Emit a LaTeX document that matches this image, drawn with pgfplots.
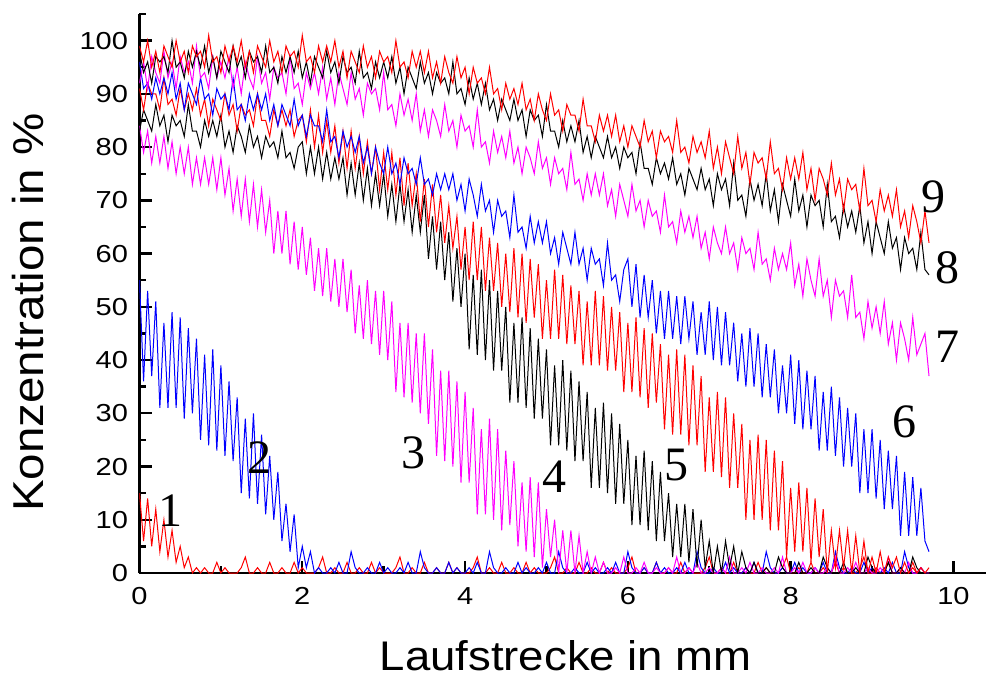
\documentclass[border=0pt]{standalone}
\usepackage{fontspec}
\setmainfont{Liberation Sans}[FakeStretch=1.1]
\newfontfamily\tickfont{Liberation Sans}[FakeStretch=1.18]
\newfontfamily\numfont{Liberation Serif}
\usepackage{pgfplots}
\pgfplotsset{compat=1.18}
\usepackage{pgfplotstable}

\definecolor{cred}{RGB}{255,0,0}
\definecolor{cblue}{RGB}{0,0,255}
\definecolor{cmag}{RGB}{255,0,255}

\pgfplotstableread{
x c1 c2 c3 c4 c5 c6 c7 c8 c9
0 15 55 84 83 91 96 92 98 99
0.05 6 36 79 87 87 91 96 94 96
0.1 14 53 83 85 92 92 91 96 100
0.15 5 37 77 83 90 89 97 92 95
0.2 12 51 82 88 90 93 94 97 98
0.25 4 31 77 84 87 90 92 96 94
0.3 10 47 82 86 93 93 98 97 99
0.35 3 31 76 81 88 90 93 94 97
0.4 8 49 81 86 89 94 96 100 95
0.45 2 31 75 84 86 89 91 95 100
0.5 5 48 80 85 91 92 97 96 96
0.55 1 29 75 82 87 87 94 93 98
0.6 3 46 80 88 90 92 96 98 94
0.65 0 30 73 83 87 90 92 95 99
0.7 1 44 78 83 91 88 99 98 97
0.75 0 25 73 80 86 93 93 95 98
0.8 1 41 78 85 89 89 94 99 95
0.85 0 24 73 82 84 90 91 94 101
0.9 0 42 78 85 89 86 97 97 96
0.95 2 23 72 82 87 91 93 93 97
1 0 39 78 86 85 89 96 98 94
1.05 1 22 71 80 90 90 93 96 99
1.1 0 36 76 83 86 87 97 94 96
1.15 0 21 68 79 88 93 91 99 99
1.2 0 33 74 84 83 87 95 95 96
1.25 1 15 67 82 88 88 90 97 100
1.3 3 29 74 79 86 85 96 93 95
1.35 0 14 66 84 87 90 93 98 98
1.4 0 30 73 80 84 87 91 96 94
1.45 1 13 65 82 90 90 97 97 99
1.5 0 26 72 78 85 87 92 94 97
1.55 0 11 64 82 85 90 94 99 95
1.6 2 22 70 80 82 85 89 94 100
1.65 0 10 60 81 87 88 95 95 96
1.7 0 19 68 78 84 84 93 92 98
1.75 1 6 60 83 87 88 94 97 94
1.8 0 13 68 78 84 86 90 94 99
1.85 0 4 58 79 87 84 97 97 97
1.9 2 11 66 76 82 89 91 94 98
1.95 0 1 57 80 85 84 92 98 95
2 1 5 65 81 86 86 88 93 101
2.05 0 1 56 75 81 82 94 96 96
2.1 0 4 63 80 87 86 91 92 97
2.15 0 0 53 75 80 84 94 97 94
2.2 1 1 61 80 86 84 90 95 99
2.25 3 0 52 74 79 81 95 93 96
2.3 0 0 61 79 85 87 89 98 99
2.35 0 1 51 74 79 81 93 94 96
2.4 1 0 59 78 84 82 88 96 100
2.45 0 2 50 74 77 78 94 92 95
2.5 0 0 59 78 83 83 91 97 98
2.55 2 0 49 71 76 80 88 94 93
2.6 0 4 57 77 83 82 94 95 98
2.65 0 1 45 71 76 79 89 92 96
2.7 1 0 54 77 82 82 91 98 94
2.75 0 0 44 70 75 77 86 93 99
2.8 0 1 55 76 81 80 92 94 95
2.85 2 0 43 69 75 75 90 91 97
2.9 0 0 53 75 80 80 91 96 93
2.95 1 2 41 69 72 77 87 93 98
3 0 0 53 75 79 75 94 96 96
3.05 0 1 40 67 72 80 87 93 97
3.1 0 0 51 73 79 75 88 97 94
3.15 1 0 34 66 71 77 84 92 100
3.2 3 1 47 73 78 73 90 95 95
3.25 0 0 33 66 69 78 86 90 96
3.3 0 2 47 72 77 75 89 95 93
3.35 1 0 32 64 69 76 85 93 98
3.4 0 0 45 71 75 73 90 91 95
3.45 0 4 30 64 66 78 83 96 98
3.5 2 1 45 71 74 73 87 92 94
3.55 0 0 28 59 65 74 82 94 98
3.6 0 0 42 67 73 71 87 90 93
3.65 1 1 22 57 64 75 85 94 96
3.7 0 0 38 66 71 72 82 92 92
3.75 0 0 21 55 62 75 88 93 97
3.8 2 2 38 64 69 72 83 90 94
3.85 0 0 20 51 61 75 85 96 92
3.9 1 1 36 61 67 70 80 90 97
3.95 0 0 17 50 57 73 86 91 93
4 0 0 34 60 65 68 83 88 95
4.05 0 1 17 42 55 74 84 93 90
4.1 1 0 31 56 66 71 80 89 95
4.15 3 2 11 41 55 67 87 92 92
4.2 0 0 27 57 65 73 80 88 93
4.25 0 0 11 40 53 68 81 92 90
4.3 1 4 29 55 63 70 77 87 95
4.35 0 1 10 38 53 64 83 89 90
4.4 0 0 27 53 62 70 79 85 91
4.45 2 0 8 38 50 67 82 89 87
4.5 0 1 23 50 60 68 78 87 92
4.55 0 0 9 32 49 63 83 85 89
4.6 1 0 21 47 61 71 77 89 91
4.65 0 2 5 32 48 64 80 85 88
4.7 0 0 17 48 60 65 75 87 92
4.75 2 1 4 31 47 61 80 82 87
4.8 0 0 18 46 59 67 78 87 89
4.85 1 0 3 29 48 62 75 85 85
4.9 0 1 17 44 58 66 81 86 90
4.95 0 0 1 29 44 62 76 82 87
5 0 2 12 42 55 66 78 88 85
5.05 1 0 3 24 44 60 73 83 90
5.1 3 0 10 39 57 63 78 83 86
5.15 0 4 0 24 44 58 75 80 87
5.2 0 1 8 40 56 64 76 85 83
5.25 1 0 0 23 43 61 72 81 88
5.3 0 0 8 38 54 58 79 84 86
5.35 0 1 0 21 43 64 73 81 86
5.4 2 0 7 36 53 58 74 85 83
5.45 0 0 0 21 39 61 70 79 89
5.5 0 2 4 34 51 55 75 82 84
5.55 1 0 0 16 39 61 71 78 84
5.6 0 1 3 31 53 58 75 82 81
5.65 0 0 0 16 39 59 71 80 86
5.7 2 0 2 32 52 54 75 78 83
5.75 0 1 0 15 38 62 69 82 86
5.8 1 0 0 30 50 55 72 78 82
5.85 0 2 1 13 38 56 67 80 86
5.9 0 0 0 28 49 51 73 76 81
5.95 0 0 3 13 34 57 70 80 84
6 1 4 0 25 47 59 67 78 80
6.05 3 1 0 9 34 50 73 79 84
6.1 0 0 1 22 48 58 68 75 82
6.15 0 0 0 9 33 48 70 81 80
6.2 1 1 2 23 46 56 65 76 85
6.25 0 0 0 8 31 48 70 76 81
6.3 0 0 0 21 45 55 67 73 83
6.35 2 2 1 6 32 45 68 78 78
6.4 0 0 0 19 43 53 64 75 83
6.45 0 1 0 6 27 44 71 77 81
6.5 1 0 1 15 41 53 65 74 82
6.55 0 0 0 3 26 44 66 78 79
6.6 0 1 3 13 42 52 62 73 85
6.65 2 0 0 3 26 43 68 75 79
6.7 0 2 0 13 41 52 64 71 80
6.75 1 0 1 2 24 44 67 76 77
6.8 0 0 0 12 39 51 63 74 82
6.85 0 4 2 1 24 41 67 72 79
6.9 0 1 0 10 37 49 61 76 81
6.95 1 0 0 1 19 41 64 72 78
7 3 0 1 6 33 51 59 74 83
7.05 0 1 0 0 19 40 65 69 76
7.1 0 0 0 5 34 50 62 75 80
7.15 1 0 1 0 18 39 60 72 75
7.2 0 2 0 6 33 49 65 74 81
7.25 0 0 3 1 16 39 60 69 78
7.3 2 1 0 5 30 47 62 77 75
7.35 0 0 0 0 16 36 57 70 82
7.4 0 0 1 4 28 45 63 71 76
7.45 1 1 0 1 10 35 60 67 79
7.5 0 0 2 0 25 46 61 74 73
7.55 0 2 0 2 10 35 57 70 79
7.6 2 0 0 0 26 45 64 73 77
7.65 0 0 1 0 10 33 58 69 78
7.7 1 4 0 1 25 43 59 75 74
7.75 0 1 0 0 8 33 55 68 81
7.8 0 0 1 0 23 42 61 72 75
7.85 0 0 0 3 8 30 57 66 76
7.9 1 1 3 1 21 39 60 73 72
7.95 3 0 0 0 3 30 57 70 78
8 0 0 0 0 16 41 62 67 74
8.05 0 2 1 0 4 28 54 74 78
8.1 1 0 0 2 17 40 58 68 74
8.15 0 1 2 0 4 27 52 71 79
8.2 0 0 0 0 16 38 59 65 72
8.25 2 0 0 1 2 27 55 71 76
8.3 0 1 1 0 14 37 52 69 70
8.35 0 0 0 0 3 23 59 70 76
8.4 1 2 0 3 12 34 52 65 74
8.45 0 0 1 1 0 23 55 73 71
8.5 0 0 0 0 8 35 48 66 77
8.55 2 4 3 0 1 22 55 67 71
8.6 0 1 0 0 8 33 52 63 74
8.65 1 0 0 2 1 20 53 69 68
8.7 0 0 1 0 8 31 48 65 74
8.75 0 1 0 0 0 20 56 68 72
8.8 0 0 2 1 7 30 48 64 73
8.85 1 0 0 0 0 15 49 69 68
8.9 3 2 0 0 6 27 44 62 76
8.95 0 0 1 3 0 15 51 66 69
9 0 1 0 1 3 27 46 60 70
9.05 1 0 0 0 0 14 50 66 66
9.1 0 0 1 0 4 25 45 63 72
9.15 0 1 0 0 0 12 51 60 68
9.2 2 0 3 2 3 23 43 66 71
9.25 0 2 0 0 1 12 47 61 67
9.3 0 0 0 0 3 22 40 63 72
9.35 1 0 1 1 0 7 47 57 65
9.4 0 4 0 0 2 19 44 63 68
9.45 0 1 2 0 0 7 40 60 63
9.5 2 0 0 3 1 18 48 61 69
9.55 0 0 0 1 0 7 41 57 66
9.6 1 1 1 0 1 16 43 64 62
9.65 0 0 0 0 0 6 45 57 68
9.7 0 0 0 0 1 4 37 56 62
}\profiles

\begin{document}
\begin{tikzpicture}
\path[use as bounding box] (-69.75pt,-52pt) rectangle (423.25pt,286.5pt);
\begin{axis}[
  at={(0,0)}, anchor=south west,
  scale only axis, width=423.25pt, height=279.5pt,
  xmin=0, xmax=10.4, ymin=0, ymax=105,
  axis x line=bottom, axis y line=left,
  axis line style={-, line width=1.2pt, black},
  xtick={0,2,...,10}, ytick={0,10,...,100},
  minor xtick={1,3,...,9}, minor ytick={5,15,...,105},
  tick align=inside,
  major tick length=6pt, minor tick length=3.5pt,
  every tick/.style={line width=1.2pt, black},
  tick label style={font=\tickfont\fontsize{12.3}{14}\selectfont},
  /pgf/number format/assume math mode=true,
  xticklabel style={yshift=-3.6pt},
  yticklabel style={xshift=-2.2pt},
  xlabel={Laufstrecke in mm},
  ylabel={Konzentration in \%},
  xlabel style={font=\fontsize{20.7}{24}\selectfont, inner sep=0pt, at={(axis description cs:0.5036,-0.148)}, anchor=center},
  ylabel style={font=\fontsize{21.6}{25}\selectfont, inner sep=0pt, at={(axis description cs:-0.1317,0.466)}, anchor=center},
]
\addplot[cred, line width=0.5pt] table[x=x,y=c1]{\profiles};
\addplot[cblue, line width=0.5pt] table[x=x,y=c2]{\profiles};
\addplot[cmag, line width=0.5pt] table[x=x,y=c3]{\profiles};
\addplot[black, line width=0.5pt] table[x=x,y=c4]{\profiles};
\addplot[cred, line width=0.5pt] table[x=x,y=c5]{\profiles};
\addplot[cblue, line width=0.5pt] table[x=x,y=c6]{\profiles};
\addplot[cmag, line width=0.5pt] table[x=x,y=c7]{\profiles};
\addplot[black, line width=0.5pt] table[x=x,y=c8]{\profiles};
\addplot[cred, line width=0.5pt] table[x=x,y=c9]{\profiles};
\begin{scope}[every node/.style={font=\numfont\fontsize{24}{24}\selectfont, inner sep=0pt}]
\node at (axis cs:0.375,11.8) {1};
\node at (axis cs:1.47,21.6) {2};
\node at (axis cs:3.37,22.5) {3};
\node at (axis cs:5.10,18.0) {4};
\node at (axis cs:6.60,20.3) {5};
\node at (axis cs:9.40,28.4) {6};
\node at (axis cs:9.93,42.4) {7};
\node at (axis cs:9.93,57.3) {8};
\node at (axis cs:9.75,70.6) {9};
\end{scope}
\end{axis}
\end{tikzpicture}
\end{document}
